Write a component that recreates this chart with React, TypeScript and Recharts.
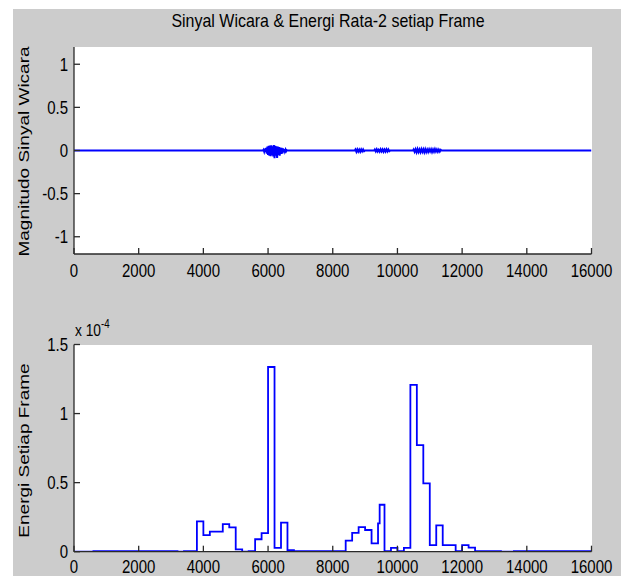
import { LineChart, Line, XAxis, YAxis } from 'recharts';

// sample index ticks shared by both panels
const xTicks = [0, 2000, 4000, 6000, 8000, 10000, 12000, 14000, 16000];
const signalTicks = [-1, -0.5, 0, 0.5, 1];
const energyTicks = [0, 0.5, 1, 1.5];

// speech signal: flat with a few short bursts
const signalTime = [
  0, 5840,
  5860, 5880, 5900, 5920, 5940, 5960, 5980, 6000, 6020, 6040, 6060, 6080, 6100, 6120, 6140, 6160, 6180, 6200,
  6220, 6240, 6260, 6280, 6300, 6320, 6340, 6360, 6380, 6400, 6420, 6440, 6460, 6480, 6500, 6520, 6540, 6560, 6580,
  6600, 8680,
  8700, 8730, 8760, 8790, 8820, 8850, 8880, 8910, 8940, 8970,
  9000, 9280,
  9300, 9330, 9360, 9390, 9420, 9450, 9480, 9510, 9540, 9570, 9600, 9630, 9660, 9690, 9720, 9750,
  9780, 10480,
  10500, 10530, 10560, 10590, 10620, 10650, 10680, 10710, 10740, 10770, 10800, 10830, 10860, 10890, 10920,
  10950, 10980, 11010, 11040, 11070, 11100, 11130, 11160, 11190, 11220, 11250, 11280, 11310, 11340,
  11360, 16000,
];
const signalAmp = [
  0, 0,
  0.01, -0.012, 0.02, -0.018, 0.03, -0.035, 0.045, -0.05, 0.055, -0.06, 0.058, -0.065, 0.06, -0.055, 0.05, -0.07, 0.062, -0.09,
  0.055, -0.06, 0.05, -0.085, 0.045, -0.05, 0.04, -0.06, 0.035, -0.04, 0.03, -0.035, 0.025, -0.02, 0.015, -0.012, 0.01, -0.008, 0.005,
  0, 0,
  0.012, -0.015, 0.014, -0.012, 0.01, -0.014, 0.012, -0.01, 0.013, -0.008,
  0, 0,
  0.012, -0.01, 0.014, -0.012, 0.008, -0.013, 0.015, -0.01, 0.012, -0.014, 0.01, -0.012, 0.015, -0.01, 0.012, -0.008,
  0, 0,
  0.012, -0.015, 0.014, -0.02, 0.016, -0.018, 0.012, -0.02, 0.015, -0.016, 0.014, -0.02, 0.015, -0.018, 0.012,
  -0.016, 0.014, -0.012, 0.015, -0.018, 0.012, -0.014, 0.016, -0.012, 0.012, -0.015, 0.01, -0.012, 0.008,
  0, 0,
];

// energy per frame (x 10^-4), step starts
const frameStart = [
  0, 600, 3200, 3400, 3800, 4000, 4200, 4600, 4800, 5000, 5200, 5400, 5600, 5800, 6000, 6200, 6400, 6600, 6800,
  8400, 8600, 8800, 9000, 9200, 9400, 9450, 9600, 9800, 10000, 10200, 10400, 10600, 10800, 11000, 11200, 11400,
  11800, 12000, 12200, 12400, 13200, 13600, 16000,
];
const frameEnergy = [
  0, 0.004, 0, 0.004, 0.22, 0.12, 0.145, 0.2, 0.176, 0.017, 0, 0.004, 0.09, 0.135, 1.337, 0.027, 0.21, 0.012, 0.004,
  0.08, 0.137, 0.178, 0.157, 0.06, 0.205, 0.34, 0.004, 0.027, 0.004, 0.027, 1.207, 0.771, 0.494, 0.048, 0.19, 0.048,
  0.004, 0.048, 0.029, 0.004, 0, 0.004, 0.004,
];

const signalData = signalTime.map((t, i) => ({ t, v: signalAmp[i] }));
const energyData = frameStart.map((t, i) => ({ t, e: frameEnergy[i] }));

const sans = '"Liberation Sans", Arial, sans-serif';
const squeeze = 0.81; // the figure text is horizontally compressed
const axisColor = '#2a2a2a';
const grey = '#cccccc';

function NarrowTick(props: any) {
  const { x, y, payload, textAnchor, verticalAnchor } = props;
  const dy = verticalAnchor === 'start' ? '0.71em' : '0.355em';
  return (
    <text
      x={0}
      y={0}
      dy={dy}
      textAnchor={textAnchor}
      fontFamily={sans}
      fontSize={18.5}
      fill="#000"
      transform={`translate(${x},${y}) scale(${squeeze},1)`}
    >
      {payload.value}
    </text>
  );
}

interface PanelProps {
  top: number;
  height: number;
  marginTop: number;
  marginBottom: number;
  xHeight: number;
  labelGap: number;
  data: { t: number; [k: string]: number }[];
  dataKey: string;
  yDomain: [number, number];
  yTicks: number[];
  lineType: 'linear' | 'stepAfter';
  strokeWidth: number;
}

function Panel(p: PanelProps) {
  const axisLine = { stroke: axisColor, strokeWidth: 1.3 };
  const tickLine = { stroke: axisColor, strokeWidth: 1.3 };
  const plotTop = p.top + p.marginTop;
  const plotH = p.height - p.marginTop - p.marginBottom - p.xHeight;
  return (
    <>
      <div style={{ position: 'absolute', left: 74, top: plotTop, width: 517.5, height: plotH, background: '#fff' }} />
      <div style={{ position: 'absolute', left: 13, top: p.top }}>
        <LineChart
          width={608}
          height={p.height}
          data={p.data}
          margin={{ top: p.marginTop, right: 29.5, bottom: p.marginBottom, left: 0 }}
          style={{ overflow: 'visible' }}
        >
          <XAxis
            xAxisId="b"
            orientation="bottom"
            type="number"
            dataKey="t"
            domain={[0, 16000]}
            ticks={xTicks}
            interval={0}
            allowDataOverflow
            height={p.xHeight}
            tickSize={-6}
            tickMargin={p.labelGap}
            tick={NarrowTick}
            axisLine={axisLine}
            tickLine={tickLine}
          />
          <XAxis
            xAxisId="t"
            orientation="top"
            type="number"
            dataKey="t"
            domain={[0, 16000]}
            ticks={xTicks}
            interval={0}
            allowDataOverflow
            height={0}
            tickSize={-6}
            tick={false}
            axisLine={axisLine}
            tickLine={tickLine}
          />
          <YAxis
            yAxisId="l"
            orientation="left"
            type="number"
            domain={p.yDomain}
            ticks={p.yTicks}
            interval={0}
            allowDataOverflow
            width={61}
            tickSize={-6}
            tickMargin={12}
            tick={NarrowTick}
            axisLine={axisLine}
            tickLine={tickLine}
          />
          <YAxis
            yAxisId="r"
            orientation="right"
            type="number"
            domain={p.yDomain}
            ticks={p.yTicks}
            interval={0}
            allowDataOverflow
            width={0}
            tickSize={-6}
            tick={false}
            axisLine={axisLine}
            tickLine={tickLine}
          />
          <Line
            xAxisId="b"
            yAxisId="l"
            type={p.lineType}
            dataKey={p.dataKey}
            stroke="#0000ff"
            strokeWidth={p.strokeWidth}
            dot={false}
            activeDot={false}
            isAnimationActive={false}
          />
        </LineChart>
      </div>
    </>
  );
}

function RotLabel({ text, cx, cy }: { text: string; cx: number; cy: number }) {
  const w = 280;
  return (
    <div
      style={{
        position: 'absolute',
        left: cx - w / 2,
        top: cy - 9.5,
        width: w,
        height: 19,
        lineHeight: '19px',
        fontSize: 19,
        fontFamily: sans,
        textAlign: 'center',
        color: '#000',
        transform: `rotate(-90deg) scale(1, ${squeeze})`,
        whiteSpace: 'nowrap',
      }}
    >
      {text}
    </div>
  );
}

export default function App() {
  return (
    <div style={{ position: 'absolute', left: 0, top: 0, width: 621, height: 576, background: '#fff', overflow: 'hidden' }}>
      <div style={{ position: 'absolute', left: 13, top: 9, width: 608, height: 567, background: grey }} />
      <Panel
        top={9}
        height={290}
        marginTop={38}
        marginBottom={15}
        xHeight={30}
        labelGap={15.5}
        data={signalData}
        dataKey="v"
        yDomain={[-1.2, 1.2]}
        yTicks={signalTicks}
        lineType="linear"
        strokeWidth={2}
      />
      <Panel
        top={299}
        height={277}
        marginTop={45.5}
        marginBottom={0.3}
        xHeight={24}
        labelGap={14}
        data={energyData}
        dataKey="e"
        yDomain={[0, 1.5]}
        yTicks={energyTicks}
        lineType="stepAfter"
        strokeWidth={1.8}
      />
      <div
        style={{
          position: 'absolute',
          left: 128,
          top: 11.2,
          width: 400,
          textAlign: 'center',
          fontFamily: sans,
          fontSize: 19,
          lineHeight: '19px',
          color: '#000',
          whiteSpace: 'nowrap',
          transform: 'scaleX(0.84)',
        }}
      >
        Sinyal Wicara &amp; Energi Rata-2 setiap Frame
      </div>
      <RotLabel text="Magnitudo Sinyal Wicara" cx={24} cy={151.7} />
      <RotLabel text="Energi Setiap Frame" cx={24} cy={450} />
      <div
        style={{
          position: 'absolute',
          left: 75,
          top: 322,
          fontFamily: sans,
          fontSize: 17,
          lineHeight: '17px',
          color: '#000',
          whiteSpace: 'nowrap',
          transform: `scaleX(${squeeze})`,
          transformOrigin: 'left top',
        }}
      >
        x 10<span style={{ fontSize: 12, position: 'relative', top: -8 }}>-4</span>
      </div>
    </div>
  );
}
